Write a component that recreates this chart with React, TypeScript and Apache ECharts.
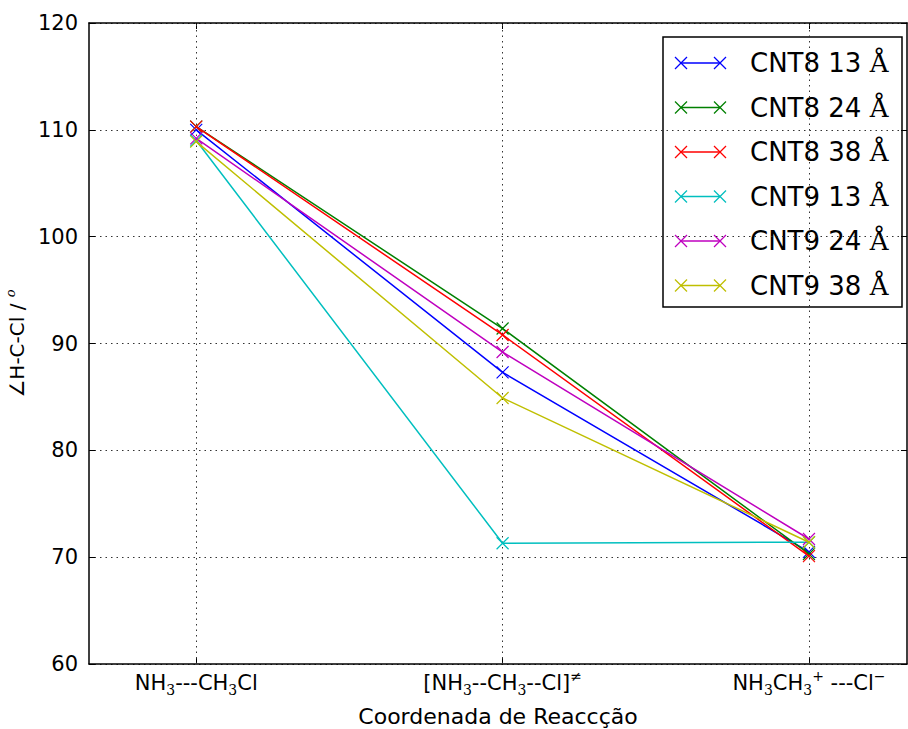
import React, { useEffect, useRef } from "react";
import * as echarts from "echarts";

const categories = ["NH3---CH3Cl", "[NH3--CH3--Cl]≠", "NH3CH3+---Cl−"];
const seriesNames = ["CNT8 13", "CNT8 24", "CNT8 38", "CNT9 13", "CNT9 24", "CNT9 38"];
const seriesColors = ["#0000ff", "#008000", "#ff0000", "#00bfbf", "#bf00bf", "#bfbf00"];
const cnt8_13 = [110.0, 87.3, 70.5];
const cnt8_24 = [110.3, 91.4, 70.3];
const cnt8_38 = [110.3, 90.8, 70.1];
const cnt9_13 = [109.0, 71.3, 71.4];
const cnt9_24 = [109.2, 89.2, 71.7];
const cnt9_38 = [108.9, 84.9, 71.4];
const seriesValues = [cnt8_13, cnt8_24, cnt8_38, cnt9_13, cnt9_24, cnt9_38];
const yTicks = [60, 70, 80, 90, 100, 110, 120];

const richLabels = [
  "{m|NH}{s|3}{m|---CH}{s|3}{m|Cl}",
  "{m|[NH}{s|3}{m|--CH}{s|3}{m|--Cl]}{p|≠}",
  "{m|NH}{s|3}{m|CH}{s|3}{p|+}{m| ---Cl}{p|−}",
];

const FONT = "DejaVu Sans";
const XPATH = "path://M0,0L10,10M10,0L0,10";

export default function App() {
  const ref = useRef<HTMLDivElement>(null);
  useEffect(() => {
    if (!ref.current) return;
    const chart = echarts.init(ref.current, undefined, { renderer: "svg" });
    const xIdx = categories.map((_, i) => i);
    const series: any[] = seriesValues.map((vals, si) => ({
      type: "line",
      name: seriesNames[si],
      data: vals.map((v, i) => [xIdx[i], v]),
      symbol: XPATH,
      symbolSize: 12,
      lineStyle: { color: seriesColors[si], width: 1.5 },
      itemStyle: { color: "none", borderColor: seriesColors[si], borderWidth: 1.2 },
      emphasis: { disabled: true },
      silent: true,
      z: 3 + si,
    }));
    series[0].markLine = {
      silent: true,
      symbol: "none",
      label: { show: false },
      lineStyle: { color: "#333", width: 1, type: [1.5, 4] },
      data: xIdx.map((x) => ({ xAxis: x })),
      z: 1,
    };
    const subRich = {
      m: { fontFamily: FONT, fontSize: 21, color: "#000", lineHeight: 28, verticalAlign: "middle" },
      s: { fontFamily: "DejaVu Serif", fontSize: 14, color: "#000", lineHeight: 14, verticalAlign: "bottom" },
      p: { fontFamily: FONT, fontSize: 14, color: "#000", lineHeight: 14, verticalAlign: "top" },
    };
    const legendChildren: any[] = [
      {
        type: "rect",
        shape: { x: 663, y: 37, width: 239, height: 270 },
        style: { fill: "#fff", stroke: "#000", lineWidth: 1.5 },
      },
    ];
    seriesNames.forEach((nm, i) => {
      const y = 63 + i * 44.5;
      const c = seriesColors[i];
      legendChildren.push({ type: "line", shape: { x1: 681, y1: y, x2: 720, y2: y }, style: { stroke: c, lineWidth: 1.5 } });
      [681, 720].forEach((cx) => {
        legendChildren.push({ type: "line", shape: { x1: cx - 6, y1: y - 6, x2: cx + 6, y2: y + 6 }, style: { stroke: c, lineWidth: 1.2 } });
        legendChildren.push({ type: "line", shape: { x1: cx - 6, y1: y + 6, x2: cx + 6, y2: y - 6 }, style: { stroke: c, lineWidth: 1.2 } });
      });
      legendChildren.push({
        type: "text",
        x: 750,
        y: y,
        style: {
          text: `{t|${nm} }{a|Å}`,
          verticalAlign: "middle",
          rich: {
            t: { fontFamily: FONT, fontSize: 26, fill: "#000" },
            a: { fontFamily: "DejaVu Serif", fontSize: 26, fill: "#000" },
          },
        },
      });
    });
    chart.setOption({
      animation: false,
      backgroundColor: "#fff",
      grid: { left: 89, right: 1, top: 23, bottom: 65, containLabel: false, outerBoundsMode: "none" },
      xAxis: [
        {
          type: "value",
          min: -0.35,
          max: 2.32,
          name: "Coordenada de Reaccção",
          nameLocation: "middle",
          nameGap: 41,
          nameTextStyle: { fontFamily: FONT, fontSize: 22, color: "#000" },
          axisLine: { show: true, onZero: false, lineStyle: { color: "#000", width: 1.5 } },
          axisTick: { show: true, inside: true, length: 6, customValues: xIdx, lineStyle: { color: "#000" } },
          axisLabel: {
            customValues: xIdx,
            margin: 5,
            formatter: (v: number) => richLabels[Math.round(v)] ?? "",
            rich: subRich,
          },
          splitLine: { show: false },
        },
        {
          type: "value",
          position: "top",
          min: -0.35,
          max: 2.32,
          axisLine: { show: true, onZero: false, lineStyle: { color: "#000", width: 1.5 } },
          axisTick: { show: true, inside: true, length: 6, customValues: xIdx, lineStyle: { color: "#000" } },
          axisLabel: { show: false },
          splitLine: { show: false },
        },
      ],
      yAxis: [
        {
          type: "value",
          min: yTicks[0],
          max: yTicks[yTicks.length - 1],
          interval: 10,
          name: "{n|∠H-C-Cl / }{o|o}",
          nameLocation: "middle",
          nameGap: 52,
          nameRotate: 90,
          nameTextStyle: {
            rich: {
              n: { fontFamily: FONT, fontSize: 20, color: "#000", lineHeight: 26, verticalAlign: "middle" },
              o: { fontFamily: "DejaVu Serif", fontStyle: "italic", fontSize: 13, color: "#000", lineHeight: 13, verticalAlign: "top" },
            },
          },
          axisLine: { show: true, onZero: false, lineStyle: { color: "#000", width: 1.5 } },
          axisTick: { show: true, inside: true, length: 6, lineStyle: { color: "#000" } },
          axisLabel: { fontFamily: FONT, fontSize: 21, color: "#000", margin: 11 },
          splitLine: { show: true, lineStyle: { color: "#333", width: 1, type: [1.5, 4] } },
        },
        {
          type: "value",
          position: "right",
          min: yTicks[0],
          max: yTicks[yTicks.length - 1],
          interval: 10,
          axisLine: { show: true, onZero: false, lineStyle: { color: "#000", width: 1.5 } },
          axisTick: { show: true, inside: true, length: 6, lineStyle: { color: "#000" } },
          axisLabel: { show: false },
          splitLine: { show: false },
        },
      ],
      series,
      graphic: [{ type: "group", z: 100, children: legendChildren }],
    });
    return () => chart.dispose();
  }, []);
  return <div ref={ref} style={{ position: "absolute", left: 0, top: 0, width: 908, height: 729 }} />;
}
